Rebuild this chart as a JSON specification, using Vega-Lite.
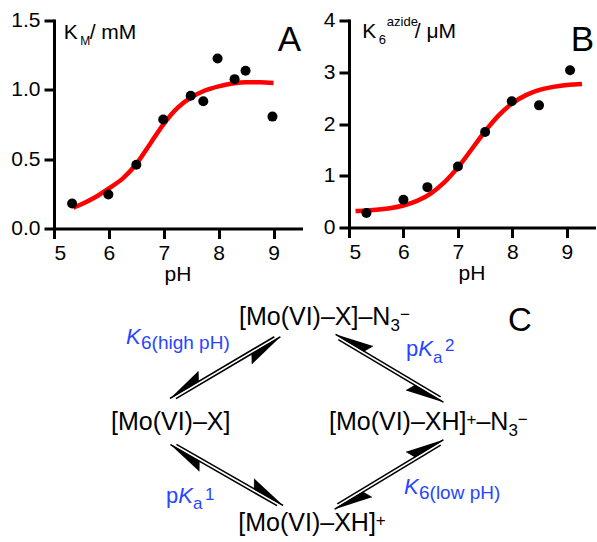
{
  "$schema": "https://vega.github.io/schema/vega-lite/v6.json",
  "background": "white",
  "padding": {"left": 10, "top": 9.5, "right": 2, "bottom": 0},
  "config": {
    "font": "Liberation Sans",
    "view": {"stroke": null},
    "axis": {
      "labelFont": "Liberation Sans", "labelFontSize": 21, "labelColor": "#000", "labelPadding": 4,
      "tickSize": 10, "tickWidth": 3, "tickColor": "#000",
      "domainWidth": 3, "domainColor": "#000", "domainCap": "square",
      "grid": false,
      "titleFont": "Liberation Sans", "titleFontSize": 21, "titleFontWeight": "normal", "titleColor": "#000", "titlePadding": 0
    }
  },
  "spacing": 267,
  "bounds": "flush",
  "vconcat": [
    {
      "spacing": 48,
      "bounds": "flush",
      "hconcat": [
        {
          "width": 247, "height": 208,
          "layer": [
            {
              "data": {"values": [
                {"pH": 5.35, "v": 0.15}, {"pH": 5.5, "v": 0.175}, {"pH": 5.75, "v": 0.225}, {"pH": 6.0, "v": 0.29},
                {"pH": 6.25, "v": 0.36}, {"pH": 6.5, "v": 0.465}, {"pH": 6.75, "v": 0.61}, {"pH": 7.0, "v": 0.755},
                {"pH": 7.25, "v": 0.87}, {"pH": 7.5, "v": 0.945}, {"pH": 7.75, "v": 0.995}, {"pH": 8.0, "v": 1.025},
                {"pH": 8.25, "v": 1.045}, {"pH": 8.5, "v": 1.055}, {"pH": 8.75, "v": 1.055}, {"pH": 9.0, "v": 1.05}
              ]},
              "mark": {"type": "line", "color": "#ff0000", "strokeWidth": 4.5, "interpolate": "monotone"},
              "encoding": {
                "x": {"field": "pH", "type": "quantitative", "scale": {"domain": [5, 9.5], "nice": false, "zero": false}, "axis": {"values": [5, 6, 7, 8, 9], "format": "d", "title": "pH"}},
                "y": {"field": "v", "type": "quantitative", "scale": {"domain": [0, 1.5], "nice": false}, "axis": {"values": [0, 0.5, 1, 1.5], "format": ".1f", "title": null}}
              }
            },
            {
              "data": {"values": [
                {"pH": 5.33, "v": 0.18}, {"pH": 5.99, "v": 0.245}, {"pH": 6.5, "v": 0.46}, {"pH": 6.99, "v": 0.786},
                {"pH": 7.49, "v": 0.957}, {"pH": 7.72, "v": 0.918}, {"pH": 7.98, "v": 1.226}, {"pH": 8.29, "v": 1.077},
                {"pH": 8.49, "v": 1.137}, {"pH": 8.98, "v": 0.807}
              ]},
              "mark": {"type": "point", "shape": "circle", "filled": true, "color": "#000", "size": 100, "opacity": 1},
              "encoding": {"x": {"field": "pH", "type": "quantitative"}, "y": {"field": "v", "type": "quantitative"}}
            },
            {
              "data": {"values": [{"pH": 5.177, "v": 1.368, "t": "K"}, {"pH": 5.65, "v": 1.368, "t": "/ mM"}]},
              "mark": {"type": "text", "fontSize": 21, "align": "left", "baseline": "alphabetic", "color": "#000"},
              "encoding": {"x": {"field": "pH", "type": "quantitative"}, "y": {"field": "v", "type": "quantitative"}, "text": {"field": "t"}}
            },
            {
              "data": {"values": [{"pH": 5.477, "v": 1.325, "t": "M"}]},
              "mark": {"type": "text", "fontSize": 12, "align": "left", "baseline": "alphabetic", "color": "#000"},
              "encoding": {"x": {"field": "pH", "type": "quantitative"}, "y": {"field": "v", "type": "quantitative"}, "text": {"field": "t"}}
            },
            {
              "data": {"values": [{"pH": 9.5, "v": 1.281, "t": "A"}]},
              "mark": {"type": "text", "fontSize": 35, "align": "right", "baseline": "alphabetic", "color": "#000"},
              "encoding": {"x": {"field": "pH", "type": "quantitative"}, "y": {"field": "v", "type": "quantitative"}, "text": {"field": "t"}}
            }
          ]
        },
        {
          "width": 245, "height": 207,
          "layer": [
            {
              "data": {"values": [
                {"pH": 5.12, "v": 0.317}, {"pH": 5.25, "v": 0.323}, {"pH": 5.5, "v": 0.341}, {"pH": 5.75, "v": 0.372},
                {"pH": 6.0, "v": 0.425}, {"pH": 6.25, "v": 0.514}, {"pH": 6.5, "v": 0.656}, {"pH": 6.75, "v": 0.87},
                {"pH": 7.0, "v": 1.161}, {"pH": 7.25, "v": 1.507}, {"pH": 7.5, "v": 1.86}, {"pH": 7.75, "v": 2.167},
                {"pH": 8.0, "v": 2.4}, {"pH": 8.25, "v": 2.558}, {"pH": 8.5, "v": 2.658}, {"pH": 8.75, "v": 2.718},
                {"pH": 9.0, "v": 2.753}, {"pH": 9.28, "v": 2.775}
              ]},
              "mark": {"type": "line", "color": "#ff0000", "strokeWidth": 4.5, "interpolate": "monotone"},
              "encoding": {
                "x": {"field": "pH", "type": "quantitative", "scale": {"domain": [5, 9.5], "nice": false, "zero": false}, "axis": {"values": [5, 6, 7, 8, 9], "format": "d", "title": "pH"}},
                "y": {"field": "v", "type": "quantitative", "scale": {"domain": [0, 4], "nice": false}, "axis": {"values": [0, 1, 2, 3, 4], "format": "d", "title": null}}
              }
            },
            {
              "data": {"values": [
                {"pH": 5.32, "v": 0.28}, {"pH": 6.0, "v": 0.535}, {"pH": 6.44, "v": 0.78}, {"pH": 7.0, "v": 1.18},
                {"pH": 7.5, "v": 1.845}, {"pH": 7.99, "v": 2.44}, {"pH": 8.49, "v": 2.36}, {"pH": 9.06, "v": 3.04}
              ]},
              "mark": {"type": "point", "shape": "circle", "filled": true, "color": "#000", "size": 100, "opacity": 1},
              "encoding": {"x": {"field": "pH", "type": "quantitative"}, "y": {"field": "v", "type": "quantitative"}}
            },
            {
              "data": {"values": [{"pH": 5.244, "v": 3.666, "t": "K"}, {"pH": 6.209, "v": 3.666, "t": "/ μM"}]},
              "mark": {"type": "text", "fontSize": 21, "align": "left", "baseline": "alphabetic", "color": "#000"},
              "encoding": {"x": {"field": "pH", "type": "quantitative"}, "y": {"field": "v", "type": "quantitative"}, "text": {"field": "t"}}
            },
            {
              "data": {"values": [{"pH": 5.548, "v": 3.55, "t": "6"}, {"pH": 5.694, "v": 3.898, "t": "azide"}]},
              "mark": {"type": "text", "fontSize": 13, "align": "left", "baseline": "alphabetic", "color": "#000"},
              "encoding": {"x": {"field": "pH", "type": "quantitative"}, "y": {"field": "v", "type": "quantitative"}, "text": {"field": "t"}}
            },
            {
              "data": {"values": [{"pH": 9.5, "v": 3.415, "t": "B"}]},
              "mark": {"type": "text", "fontSize": 35, "align": "right", "baseline": "alphabetic", "color": "#000"},
              "encoding": {"x": {"field": "pH", "type": "quantitative"}, "y": {"field": "v", "type": "quantitative"}, "text": {"field": "t"}}
            }
          ]
        }
      ]
    },
    {
      "width": 544, "height": 252,
      "layer": [
        {
          "data": {"values": [
            {"x": 169.03, "y": 400.90, "x2": 273.33, "y2": 339.20},
            {"x": 174.97, "y": 401.10, "x2": 279.27, "y2": 339.40},
            {"x": 334.67, "y": 336.85, "x2": 439.67, "y2": 399.35},
            {"x": 337.33, "y": 342.15, "x2": 442.33, "y2": 404.65},
            {"x": 169.54, "y": 447.15, "x2": 276.04, "y2": 508.15},
            {"x": 175.47, "y": 446.85, "x2": 281.97, "y2": 507.85},
            {"x": 333.69, "y": 511.66, "x2": 439.69, "y2": 447.66},
            {"x": 336.31, "y": 506.34, "x2": 442.31, "y2": 442.34}
          ]},
          "mark": {"type": "rule", "color": "#000", "strokeWidth": 1.6},
          "encoding": {
            "x": {"field": "x", "type": "quantitative", "scale": {"domain": [53, 597], "nice": false, "zero": false}, "axis": null},
            "y": {"field": "y", "type": "quantitative", "scale": {"domain": [290, 542], "nice": false, "zero": false, "reverse": true}, "axis": null},
            "x2": {"field": "x2"},
            "y2": {"field": "y2"}
          }
        },
        {
          "data": {"values": [
            {"id": 1, "k": 0, "x": 169.03, "y": 400.90}, {"id": 1, "k": 1, "x": 197.43, "y": 384.10}, {"id": 1, "k": 2, "x": 197.15, "y": 373.80},
            {"id": 2, "k": 0, "x": 279.27, "y": 339.40}, {"id": 2, "k": 1, "x": 250.87, "y": 356.20}, {"id": 2, "k": 2, "x": 251.15, "y": 366.50},
            {"id": 3, "k": 0, "x": 334.67, "y": 336.85}, {"id": 3, "k": 1, "x": 363.03, "y": 353.73}, {"id": 3, "k": 2, "x": 371.92, "y": 348.56},
            {"id": 4, "k": 0, "x": 442.33, "y": 404.65}, {"id": 4, "k": 1, "x": 413.97, "y": 387.77}, {"id": 4, "k": 2, "x": 405.08, "y": 392.94},
            {"id": 5, "k": 0, "x": 169.54, "y": 447.15}, {"id": 5, "k": 1, "x": 198.18, "y": 463.55}, {"id": 5, "k": 2, "x": 198.05, "y": 473.85},
            {"id": 6, "k": 0, "x": 281.97, "y": 507.85}, {"id": 6, "k": 1, "x": 253.33, "y": 491.45}, {"id": 6, "k": 2, "x": 253.46, "y": 481.15},
            {"id": 7, "k": 0, "x": 333.69, "y": 511.66}, {"id": 7, "k": 1, "x": 361.94, "y": 494.60}, {"id": 7, "k": 2, "x": 370.88, "y": 499.72},
            {"id": 8, "k": 0, "x": 442.31, "y": 442.34}, {"id": 8, "k": 1, "x": 414.06, "y": 459.40}, {"id": 8, "k": 2, "x": 405.12, "y": 454.28}
          ]},
          "mark": {"type": "line", "color": "#000", "fill": "#000", "strokeWidth": 0.8},
          "encoding": {
            "x": {"field": "x", "type": "quantitative"},
            "y": {"field": "y", "type": "quantitative"},
            "detail": {"field": "id", "type": "nominal"},
            "order": {"field": "k", "type": "quantitative"}
          }
        },
        {
          "data": {"values": [
            {"x": 238, "y": 327, "t": "[Mo(VI)–X]–N"},
            {"x": 110, "y": 432, "t": "[Mo(VI)–X]"},
            {"x": 328, "y": 432, "t": "[Mo(VI)–XH]"},
            {"x": 475.4, "y": 432, "t": "–N"},
            {"x": 237.3, "y": 533, "t": "[Mo(VI)–XH]"}
          ]},
          "mark": {"type": "text", "fontSize": 25, "align": "left", "baseline": "alphabetic", "color": "#000"},
          "encoding": {"x": {"field": "x", "type": "quantitative"}, "y": {"field": "y", "type": "quantitative"}, "text": {"field": "t"}}
        },
        {
          "data": {"values": [
            {"x": 389.5, "y": 333, "t": "3"},
            {"x": 399, "y": 322, "t": "−"},
            {"x": 465.5, "y": 427, "t": "+"},
            {"x": 507.4, "y": 438, "t": "3"},
            {"x": 516.8, "y": 427, "t": "−"},
            {"x": 374.8, "y": 528, "t": "+"}
          ]},
          "mark": {"type": "text", "fontSize": 17, "align": "left", "baseline": "alphabetic", "color": "#000"},
          "encoding": {"x": {"field": "x", "type": "quantitative"}, "y": {"field": "y", "type": "quantitative"}, "text": {"field": "t"}}
        },
        {
          "data": {"values": [{"x": 507, "y": 333, "t": "C"}]},
          "mark": {"type": "text", "fontSize": 33, "align": "left", "baseline": "alphabetic", "color": "#000"},
          "encoding": {"x": {"field": "x", "type": "quantitative"}, "y": {"field": "y", "type": "quantitative"}, "text": {"field": "t"}}
        },
        {
          "data": {"values": [{"x": 405, "y": 358.3, "t": "p"}, {"x": 165, "y": 505, "t": "p"}]},
          "mark": {"type": "text", "fontSize": 22, "align": "left", "baseline": "alphabetic", "color": "#2846ff"},
          "encoding": {"x": {"field": "x", "type": "quantitative"}, "y": {"field": "y", "type": "quantitative"}, "text": {"field": "t"}}
        },
        {
          "data": {"values": [
            {"x": 125, "y": 346.7, "t": "K"}, {"x": 417.2, "y": 358.3, "t": "K"},
            {"x": 177.2, "y": 505, "t": "K"}, {"x": 403, "y": 496.7, "t": "K"}
          ]},
          "mark": {"type": "text", "fontSize": 22, "fontStyle": "italic", "align": "left", "baseline": "alphabetic", "color": "#2846ff"},
          "encoding": {"x": {"field": "x", "type": "quantitative"}, "y": {"field": "y", "type": "quantitative"}, "text": {"field": "t"}}
        },
        {
          "data": {"values": [
            {"x": 431.9, "y": 365, "t": "a"}, {"x": 444, "y": 353.5, "t": "2"},
            {"x": 191.9, "y": 511.7, "t": "a"}, {"x": 204, "y": 502, "t": "1"}
          ]},
          "mark": {"type": "text", "fontSize": 17, "align": "left", "baseline": "alphabetic", "color": "#2846ff"},
          "encoding": {"x": {"field": "x", "type": "quantitative"}, "y": {"field": "y", "type": "quantitative"}, "text": {"field": "t"}}
        },
        {
          "data": {"values": [
            {"x": 140, "y": 351.7, "t": "6(high pH)"}, {"x": 418, "y": 501.7, "t": "6(low pH)"}
          ]},
          "mark": {"type": "text", "fontSize": 19, "align": "left", "baseline": "alphabetic", "color": "#2846ff"},
          "encoding": {"x": {"field": "x", "type": "quantitative"}, "y": {"field": "y", "type": "quantitative"}, "text": {"field": "t"}}
        }
      ]
    }
  ]
}
